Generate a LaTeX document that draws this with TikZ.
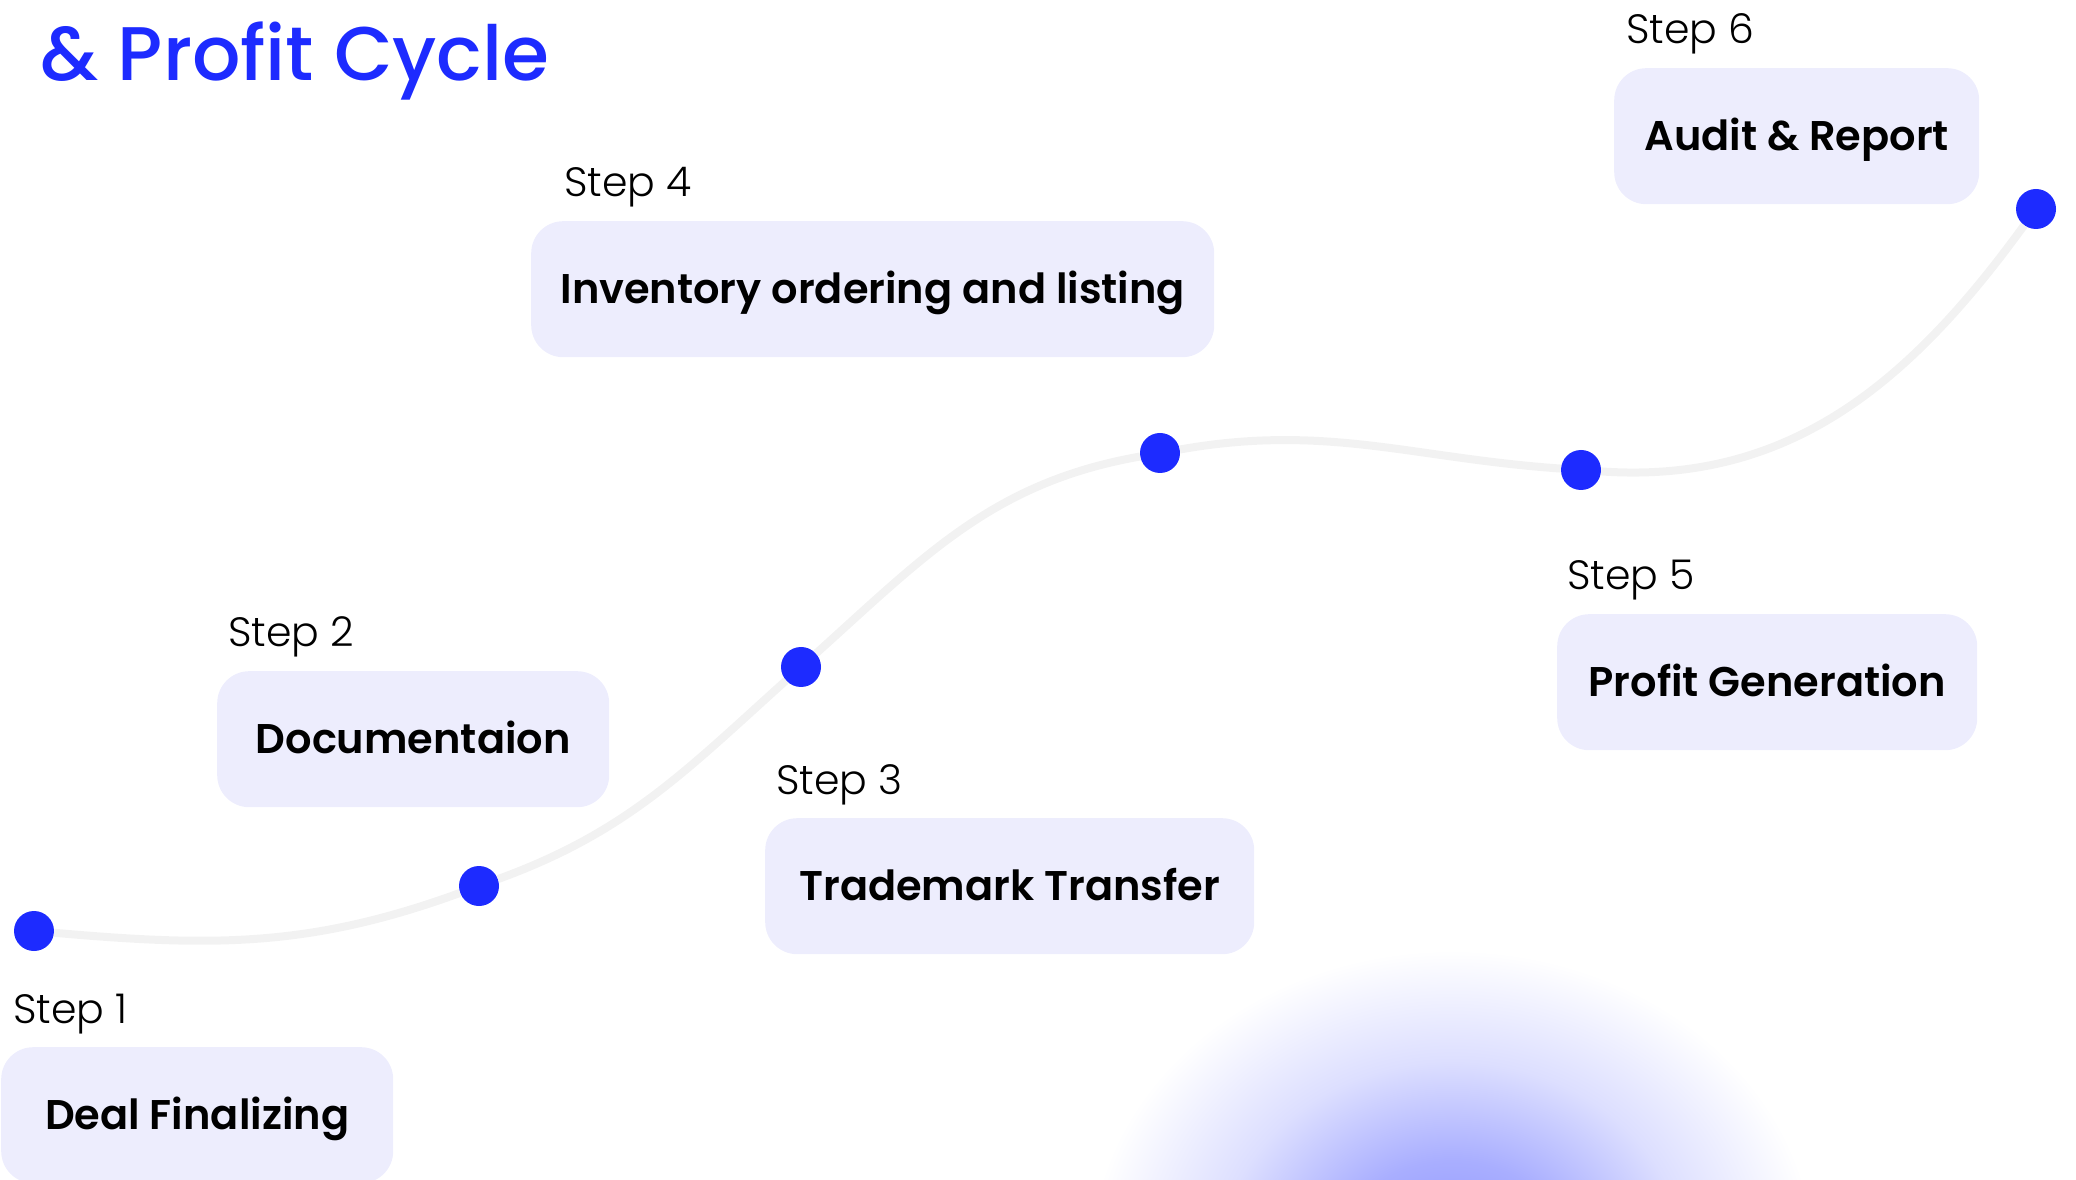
\documentclass[tikz,border=0pt]{standalone}
\usepackage{fontspec}
\setmainfont{Poppins}
\newfontfamily\titlefont{Poppins Medium}
\newfontfamily\stepfont{Poppins Light}
\newfontfamily\boxfont{Poppins SemiBold}

\definecolor{dotblue}{RGB}{29,43,255}
\definecolor{boxfill}{RGB}{237,237,253}
\definecolor{trackgray}{RGB}{242,242,242}
\definecolor{glowblue}{RGB}{140,147,255}

\pgfdeclareradialshading{glowshade}{\pgfpoint{0bp}{0bp}}{color(0bp)=(glowblue); color(8bp)=(glowblue!75!white); color(16bp)=(glowblue!30!white); color(25bp)=(white); color(50bp)=(white)}

\begin{document}
\begin{tikzpicture}[x=1pt, y=1pt,
stepbox/.style={anchor=north west, rounded corners=32, fill=boxfill, minimum height=136, inner sep=0pt, text height=29, text depth=0pt, font=\boxfont\fontsize{41.5}{46}\selectfont},
steplabel/.style={anchor=base west, inner sep=0pt, font=\stepfont\fontsize{41}{46}\selectfont},
dot/.style={circle, fill=dotblue, minimum size=40, inner sep=0pt},
trackline/.style={draw=trackgray, line width=8}]
    \useasboundingbox (0,0) rectangle (2076,1179);
    \clip (0,0) rectangle (2076,1179);

    % glow at the bottom
    \shade[shading=glowshade] (1452,-81) ellipse (363 and 310);

    \node[anchor=base west, inner sep=0pt, text=dotblue, font=\titlefont\fontsize{76}{82}\selectfont] (title) at (40,1098) {\& Profit Cycle};

    % milestones on the track
    \node[dot] (d1) at (34,248) {};
    \node[dot] (d2) at (479,293) {};
    \node[dot] (d3) at (801,512) {};
    \node[dot] (d4) at (1160,726) {};
    \node[dot] (d5) at (1581,709) {};
    \node[dot] (d6) at (2036,970) {};

    \draw[trackline] (d1) to[out=-5, in=200] (d2)
        to[out=20, in=222] (d3)
        to[out=42, in=190] (d4)
        to[out=10, in=176] (d5)
        to[out=-4, in=234] (d6);

    % boxes
    \node[stepbox, minimum width=392] (b1) at (1,132) {Deal Finalizing};
    \node[stepbox, minimum width=392] (b2) at (217,508) {Documentaion};
    \node[stepbox, minimum width=489] (b3) at (765,361) {Trademark Transfer};
    \node[stepbox, minimum width=683] (b4) at (531,958) {Inventory ordering and listing};
    \node[stepbox, minimum width=420] (b5) at (1557,565) {Profit Generation};
    \node[stepbox, minimum width=365] (b6) at (1614,1111) {Audit \& Report};

    \node[steplabel] (s1) at ([shift={(12,24)}]b1.north west) {Step 1};
    \node[steplabel] (s2) at ([shift={(11,24)}]b2.north west) {Step 2};
    \node[steplabel] (s3) at ([shift={(11,24)}]b3.north west) {Step 3};
    \node[steplabel] (s4) at ([shift={(33,24)}]b4.north west) {Step 4};
    \node[steplabel] (s5) at ([shift={(10,24)}]b5.north west) {Step 5};
    \node[steplabel] (s6) at ([shift={(12,24)}]b6.north west) {Step 6};
\end{tikzpicture}
\end{document}
